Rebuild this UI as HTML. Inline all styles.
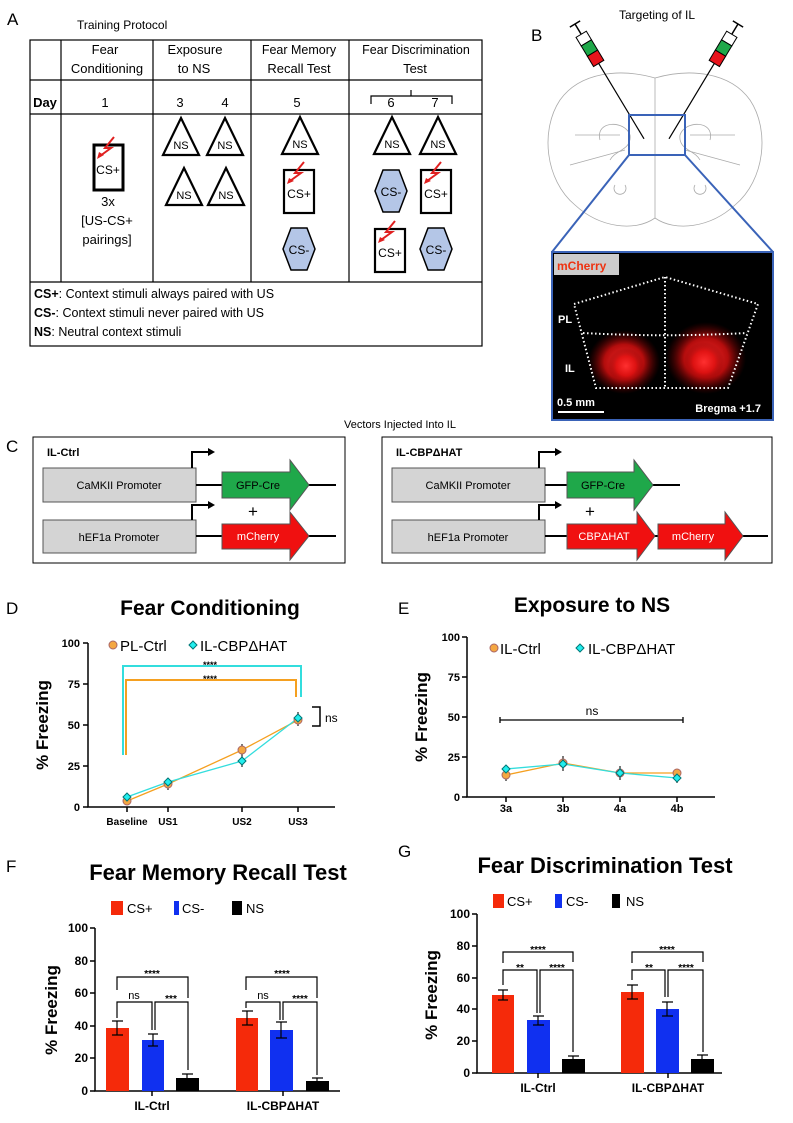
<!DOCTYPE html>
<html><head><meta charset="utf-8"><style>body{margin:0;background:#fff}svg{display:block}</style></head><body>
<svg width="793" height="1123" viewBox="0 0 793 1123" xmlns="http://www.w3.org/2000/svg" font-family="Liberation Sans, sans-serif">
<defs>
<radialGradient id="glow"><stop offset="0" stop-color="#ff3030" stop-opacity="1"/><stop offset="0.55" stop-color="#e01010" stop-opacity="0.8"/><stop offset="1" stop-color="#700" stop-opacity="0"/></radialGradient>
<g id="tri"><polygon points="18,0 36,37 0,37" fill="#fff" stroke="#000" stroke-width="2.2"/><text x="18" y="31" font-size="11" text-anchor="middle">NS</text></g>
<g id="hex"><polygon points="8,0 24,0 32,21 24,42 8,42 0,21" fill="#b4c6e7" stroke="#000" stroke-width="1.5"/><text x="16" y="26" font-size="12" text-anchor="middle">CS-</text></g>
<g id="csp"><rect x="0" y="0" width="30" height="43" fill="#fff" stroke="#000" stroke-width="2.2"/><polyline points="20,-8 11,3 17,3 6,11" fill="none" stroke="#e02020" stroke-width="2"/><polygon points="3,14 5,8 10,11" fill="#e02020"/><text x="15" y="28" font-size="12" text-anchor="middle">CS+</text></g>
</defs>

<!-- Panel A -->
<text x="7" y="25" font-size="17">A</text>
<text x="77" y="29" font-size="12">Training Protocol</text>
<g stroke="#000" stroke-width="1.2" fill="none">
<rect x="30" y="40" width="452" height="306"/>
<line x1="30" y1="80" x2="482" y2="80"/><line x1="30" y1="114" x2="482" y2="114"/><line x1="30" y1="282" x2="482" y2="282"/>
<line x1="61" y1="40" x2="61" y2="282"/><line x1="153" y1="40" x2="153" y2="282"/><line x1="251" y1="40" x2="251" y2="282"/><line x1="349" y1="40" x2="349" y2="282"/>
<path d="M371,104 V96 H411 V90 M411,96 H452 V104"/>
</g>
<g font-size="13" text-anchor="middle">
<text x="105" y="54">Fear</text><text x="107" y="73">Conditioning</text>
<text x="195" y="54">Exposure</text><text x="194" y="73">to NS</text>
<text x="299" y="54" font-size="12.5">Fear Memory</text><text x="299" y="73">Recall Test</text>
<text x="416" y="54" font-size="12.5">Fear Discrimination</text><text x="415" y="73">Test</text>
<text x="45" y="107" font-weight="bold">Day</text>
<text x="105" y="107">1</text><text x="180" y="107">3</text><text x="225" y="107">4</text><text x="297" y="107">5</text><text x="391" y="107">6</text><text x="435" y="107">7</text>
<text x="108" y="206">3x</text><text x="107" y="225">[US-CS+</text><text x="107" y="244">pairings]</text>
</g>
<rect x="94" y="145" width="29" height="45" fill="#fff" stroke="#000" stroke-width="3"/>
<polyline points="114,137 105,148 111,148 100,156" fill="none" stroke="#e02020" stroke-width="2"/><polygon points="97,159 99,152 104,155" fill="#e02020"/>
<text x="108" y="174" font-size="12" text-anchor="middle">CS+</text>
<use href="#tri" x="163" y="118"/><use href="#tri" x="207" y="118"/><use href="#tri" x="166" y="168"/><use href="#tri" x="208" y="168"/>
<use href="#tri" x="282" y="117"/><use href="#csp" x="284" y="170"/><use href="#hex" x="283" y="228"/>
<use href="#tri" x="374" y="117"/><use href="#hex" x="375" y="170"/><use href="#csp" x="375" y="229"/>
<use href="#tri" x="420" y="117"/><use href="#csp" x="421" y="170"/><use href="#hex" x="420" y="228"/>
<g font-size="12.5"><text x="34" y="298"><tspan font-weight="bold">CS+</tspan>: Context stimuli always paired with US</text>
<text x="34" y="317"><tspan font-weight="bold">CS-</tspan>: Context stimuli never paired with US</text>
<text x="34" y="336"><tspan font-weight="bold">NS</tspan>: Neutral context stimuli</text></g>

<!-- Panel B -->
<text x="657" y="19" font-size="12" text-anchor="middle">Targeting of IL</text>
<text x="531" y="41" font-size="17">B</text>
<g fill="none" stroke="#aaa" stroke-width="0.8">
<path d="M655,78 C620,68 580,72 560,100 C540,130 545,180 575,205 C600,228 635,232 655,218 C675,232 710,228 735,205 C765,180 770,130 750,100 C730,72 690,68 655,78 Z"/>
<line x1="655" y1="78" x2="655" y2="218"/>
<path d="M600,140 C595,120 625,120 630,135 C632,150 615,150 610,160 M710,140 C715,120 685,120 680,135 C678,150 695,150 700,160"/>
<path d="M575,135 H620 M690,135 H735 M570,165 L625,150 M740,165 L685,150 M615,185 a6,6 0 1,0 10,0 M695,185 a6,6 0 1,0 10,0"/>
</g>
<g transform="translate(575,24) rotate(-31)"><line x1="-6" y1="0" x2="6" y2="0" stroke="#000" stroke-width="1.5"/><line x1="0" y1="0" x2="0" y2="12" stroke="#000" stroke-width="1.5"/>
<rect x="-6" y="12" width="12" height="10" fill="#fff" stroke="#000"/><rect x="-6" y="22" width="12" height="12" fill="#1fa84a" stroke="#000"/><rect x="-6" y="34" width="12" height="12" fill="#e8141c" stroke="#000"/><line x1="0" y1="46" x2="0" y2="134" stroke="#000" stroke-width="1.2"/></g>
<g transform="translate(738,24) rotate(31)"><line x1="-6" y1="0" x2="6" y2="0" stroke="#000" stroke-width="1.5"/><line x1="0" y1="0" x2="0" y2="12" stroke="#000" stroke-width="1.5"/>
<rect x="-6" y="12" width="12" height="10" fill="#fff" stroke="#000"/><rect x="-6" y="22" width="12" height="12" fill="#1fa84a" stroke="#000"/><rect x="-6" y="34" width="12" height="12" fill="#e8141c" stroke="#000"/><line x1="0" y1="46" x2="0" y2="134" stroke="#000" stroke-width="1.2"/></g>
<rect x="629" y="115" width="56" height="40" fill="none" stroke="#3a63b8" stroke-width="2"/>
<line x1="629" y1="155" x2="552" y2="252" stroke="#3a63b8" stroke-width="2"/><line x1="685" y1="155" x2="773" y2="252" stroke="#3a63b8" stroke-width="2"/>
<rect x="552" y="252" width="221" height="168" fill="#000" stroke="#3a63b8" stroke-width="2"/>
<ellipse cx="624" cy="362" rx="36" ry="32" fill="url(#glow)"/><ellipse cx="706" cy="358" rx="40" ry="36" fill="url(#glow)"/>
<ellipse cx="626" cy="366" rx="18" ry="18" fill="url(#glow)"/><ellipse cx="704" cy="362" rx="20" ry="20" fill="url(#glow)"/>
<g fill="none" stroke="#fff" stroke-width="2" stroke-dasharray="1.5,2.5">
<polygon points="574,304 665,277 758,304 728,388 596,388"/><path d="M583,333 C640,336 690,336 747,333"/><line x1="665" y1="277" x2="665" y2="388"/></g>
<rect x="554" y="254" width="65" height="21" fill="#ccc"/><text x="557" y="270" font-size="12" fill="#e31" font-weight="bold">mCherry</text>
<g fill="#fff" font-size="11" font-weight="bold"><text x="558" y="323">PL</text><text x="565" y="372">IL</text><text x="557" y="406">0.5 mm</text><text x="761" y="412" text-anchor="end">Bregma +1.7</text></g>
<line x1="558" y1="412" x2="604" y2="412" stroke="#fff" stroke-width="2"/>

<!-- Panel C -->
<text x="400" y="428" font-size="11" text-anchor="middle">Vectors Injected Into IL</text>
<text x="6" y="452" font-size="17">C</text>
<g font-size="11">
<rect x="33" y="437" width="312" height="126" fill="none" stroke="#000"/>
<text x="47" y="456" font-weight="bold">IL-Ctrl</text>
<rect x="43" y="468" width="153" height="34" fill="#d4d4d4" stroke="#555"/><text x="119" y="489" text-anchor="middle">CaMKII Promoter</text>
<rect x="43" y="520" width="153" height="33" fill="#d4d4d4" stroke="#555"/><text x="119" y="541" text-anchor="middle">hEF1a Promoter</text>
<path d="M192,468 V452 H208" fill="none" stroke="#000" stroke-width="2"/><polygon points="208,448 215,452 208,456"/>
<path d="M192,520 V505 H208" fill="none" stroke="#000" stroke-width="2"/><polygon points="208,501 215,505 208,509"/>
<line x1="196" y1="485" x2="336" y2="485" stroke="#000" stroke-width="2"/><line x1="196" y1="536" x2="336" y2="536" stroke="#000" stroke-width="2"/>
<polygon points="222,472 290,472 290,460 309,485 290,510 290,498 222,498" fill="#1fa84a" stroke="#555"/><text x="258" y="489" text-anchor="middle">GFP-Cre</text>
<polygon points="222,524 290,524 290,512 309,536 290,560 290,549 222,549" fill="#f01010" stroke="#555"/><text x="258" y="540" text-anchor="middle" fill="#fff">mCherry</text>
<text x="253" y="517" font-size="17" text-anchor="middle">+</text>

<rect x="382" y="437" width="390" height="126" fill="none" stroke="#000"/>
<text x="396" y="456" font-weight="bold">IL-CBPΔHAT</text>
<rect x="392" y="468" width="153" height="34" fill="#d4d4d4" stroke="#555"/><text x="468" y="489" text-anchor="middle">CaMKII Promoter</text>
<rect x="392" y="520" width="153" height="33" fill="#d4d4d4" stroke="#555"/><text x="468" y="541" text-anchor="middle">hEF1a Promoter</text>
<path d="M539,468 V452 H555" fill="none" stroke="#000" stroke-width="2"/><polygon points="555,448 562,452 555,456"/>
<path d="M539,520 V505 H555" fill="none" stroke="#000" stroke-width="2"/><polygon points="555,501 562,505 555,509"/>
<line x1="545" y1="485" x2="680" y2="485" stroke="#000" stroke-width="2"/><line x1="545" y1="536" x2="768" y2="536" stroke="#000" stroke-width="2"/>
<polygon points="567,472 634,472 634,460 653,485 634,510 634,498 567,498" fill="#1fa84a" stroke="#555"/><text x="603" y="489" text-anchor="middle">GFP-Cre</text>
<polygon points="567,524 637,524 637,512 655,536 637,560 637,549 567,549" fill="#f01010" stroke="#555"/><text x="604" y="540" text-anchor="middle" fill="#fff">CBPΔHAT</text>
<polygon points="658,524 725,524 725,512 743,536 725,560 725,549 658,549" fill="#f01010" stroke="#555"/><text x="693" y="540" text-anchor="middle" fill="#fff">mCherry</text>
<text x="590" y="517" font-size="17" text-anchor="middle">+</text>
</g>

<!-- Panel D -->
<text x="6" y="614" font-size="17">D</text>
<text x="210" y="615" font-size="21" font-weight="bold" text-anchor="middle">Fear Conditioning</text>
<g stroke="#000" stroke-width="1.5" fill="none">
<path d="M88,643 V807 H335"/>
<path d="M83,643 H88 M83,684 H88 M83,725 H88 M83,766 H88 M83,807 H88 M127,807 V812 M168,807 V812 M242,807 V812 M298,807 V812"/>
</g>
<g font-size="11" font-weight="bold" text-anchor="end"><text x="80" y="647">100</text><text x="80" y="688">75</text><text x="80" y="729">50</text><text x="80" y="770">25</text><text x="80" y="811">0</text></g>
<g font-size="10" font-weight="bold" text-anchor="middle"><text x="127" y="825">Baseline</text><text x="168" y="825">US1</text><text x="242" y="825">US2</text><text x="298" y="825">US3</text></g>
<text x="48" y="725" font-size="17" font-weight="bold" text-anchor="middle" transform="rotate(-90 48 725)">% Freezing</text>
<circle cx="113" cy="645" r="4" fill="#f4a742" stroke="#a66"/><text x="120" y="651" font-size="15">PL-Ctrl</text>
<polygon points="193,641 197,645 193,649 189,645" fill="#2ee" stroke="#077"/><text x="200" y="651" font-size="15">IL-CBPΔHAT</text>
<path d="M123,755 V666 H301 V697" fill="none" stroke="#3dd" stroke-width="2"/>
<path d="M126,755 V680 H296 V697" fill="none" stroke="#f5a020" stroke-width="2"/>
<text x="210" y="668" font-size="9" font-weight="bold" text-anchor="middle">****</text><text x="210" y="682" font-size="9" font-weight="bold" text-anchor="middle">****</text>
<path d="M312,707 H320 V726 H312" fill="none" stroke="#000" stroke-width="1.5"/><text x="325" y="722" font-size="12">ns</text>
<g stroke="#333" stroke-width="1.3"><path d="M127,795 V803 M168,778 V790 M242,744 V756 M298,712 V726 M242,755 V767"/></g>
<polyline points="127,801 168,784 242,750 298,720" fill="none" stroke="#f5a020" stroke-width="1.3"/>
<polyline points="127,797 168,782 242,761 298,718" fill="none" stroke="#3dd" stroke-width="1.3"/>
<g fill="#f4a742" stroke="#a66"><circle cx="127" cy="801" r="4"/><circle cx="168" cy="784" r="4"/><circle cx="242" cy="750" r="4"/><circle cx="298" cy="720" r="4"/></g>
<g fill="#2ee" stroke="#077"><polygon points="127,793 131,797 127,801 123,797"/><polygon points="168,778 172,782 168,786 164,782"/><polygon points="242,757 246,761 242,765 238,761"/><polygon points="298,714 302,718 298,722 294,718"/></g>

<!-- Panel E -->
<text x="398" y="614" font-size="17">E</text>
<text x="592" y="612" font-size="21" font-weight="bold" text-anchor="middle">Exposure to NS</text>
<g stroke="#000" stroke-width="1.5" fill="none">
<path d="M467,637 V797 H715"/>
<path d="M462,637 H467 M462,677 H467 M462,717 H467 M462,757 H467 M462,797 H467 M506,797 V802 M563,797 V802 M620,797 V802 M677,797 V802"/>
</g>
<g font-size="11" font-weight="bold" text-anchor="end"><text x="460" y="641">100</text><text x="460" y="681">75</text><text x="460" y="721">50</text><text x="460" y="761">25</text><text x="460" y="801">0</text></g>
<g font-size="11" font-weight="bold" text-anchor="middle"><text x="506" y="812">3a</text><text x="563" y="812">3b</text><text x="620" y="812">4a</text><text x="677" y="812">4b</text></g>
<text x="427" y="717" font-size="17" font-weight="bold" text-anchor="middle" transform="rotate(-90 427 717)">% Freezing</text>
<circle cx="494" cy="648" r="4" fill="#f4a742" stroke="#a66"/><text x="500" y="654" font-size="15">IL-Ctrl</text>
<polygon points="580,644 584,648 580,652 576,648" fill="#2ee" stroke="#077"/><text x="588" y="654" font-size="15">IL-CBPΔHAT</text>
<path d="M500,720 H683 M500,717 V723 M683,717 V723" stroke="#000" stroke-width="1.3"/><text x="592" y="715" font-size="12" text-anchor="middle">ns</text>
<g stroke="#333" stroke-width="1.3"><path d="M506,768 V781 M563,756 V771 M620,766 V780 M677,771 V783"/></g>
<polyline points="506,775 563,763 620,773 677,773" fill="none" stroke="#f5a020" stroke-width="1.3"/>
<polyline points="506,769 563,764 620,773 677,778" fill="none" stroke="#3dd" stroke-width="1.3"/>
<g fill="#f4a742" stroke="#a66"><circle cx="506" cy="775" r="4"/><circle cx="563" cy="763" r="4"/><circle cx="620" cy="773" r="4"/><circle cx="677" cy="773" r="4"/></g>
<g fill="#2ee" stroke="#077"><polygon points="506,765 510,769 506,773 502,769"/><polygon points="563,760 567,764 563,768 559,764"/><polygon points="620,769 624,773 620,777 616,773"/><polygon points="677,774 681,778 677,782 673,778"/></g>

<!-- Panel F -->
<text x="6" y="872" font-size="17">F</text>
<text x="218" y="880" font-size="22" font-weight="bold" text-anchor="middle">Fear Memory Recall Test</text>
<rect x="111" y="901" width="12" height="14" fill="#f52a0a"/><text x="127" y="913" font-size="13">CS+</text>
<rect x="174" y="901" width="5" height="14" fill="#1030f0"/><text x="182" y="913" font-size="13">CS-</text>
<rect x="232" y="901" width="10" height="14" fill="#000"/><text x="246" y="913" font-size="13">NS</text>
<g stroke="#000" stroke-width="1.5" fill="none">
<path d="M95,928 V1091 H340"/>
<path d="M90,928 H95 M90,961 H95 M90,993 H95 M90,1026 H95 M90,1058 H95 M90,1091 H95 M152,1091 V1096 M283,1091 V1096"/>
</g>
<g font-size="12" font-weight="bold" text-anchor="end"><text x="88" y="932">100</text><text x="88" y="965">80</text><text x="88" y="997">60</text><text x="88" y="1030">40</text><text x="88" y="1062">20</text><text x="88" y="1095">0</text></g>
<text x="57" y="1010" font-size="17" font-weight="bold" text-anchor="middle" transform="rotate(-90 57 1010)">% Freezing</text>
<g font-size="12" font-weight="bold" text-anchor="middle"><text x="152" y="1110">IL-Ctrl</text><text x="283" y="1110">IL-CBPΔHAT</text></g>
<rect x="106" y="1028" width="23" height="63" fill="#f52a0a"/><rect x="142" y="1040" width="22" height="51" fill="#1030f0"/><rect x="176" y="1078" width="23" height="13" fill="#000"/>
<rect x="236" y="1018" width="22" height="73" fill="#f52a0a"/><rect x="270" y="1030" width="23" height="61" fill="#1030f0"/><rect x="306" y="1081" width="23" height="10" fill="#000"/>
<g stroke="#000" stroke-width="1.2" fill="none">
<path d="M112,1021 H123 M117,1021 V1035 M112,1035 H123 M148,1034 H158 M153,1034 V1046 M148,1046 H158 M182,1074 H193 M187,1074 V1082"/>
<path d="M242,1011 H253 M247,1011 V1025 M242,1025 H253 M276,1022 H287 M281,1022 V1038 M276,1038 H287 M312,1078 H323 M317,1078 V1083"/>
<path d="M117,990 V977 H188 V998 M117,1018 V1002 H152 V1030 M155,1030 V1002 H188 V1070"/>
<path d="M246,990 V977 H317 V998 M246,1008 V1002 H280 V1020 M283,1020 V1002 H317 V1075"/>
</g>
<g font-size="10" font-weight="bold" text-anchor="middle"><text x="152" y="977">****</text><text x="134" y="999" font-weight="normal" font-size="11">ns</text><text x="171" y="1002">***</text>
<text x="282" y="977">****</text><text x="263" y="999" font-weight="normal" font-size="11">ns</text><text x="300" y="1002">****</text></g>

<!-- Panel G -->
<text x="398" y="857" font-size="17">G</text>
<text x="605" y="873" font-size="22" font-weight="bold" text-anchor="middle">Fear Discrimination Test</text>
<rect x="493" y="894" width="11" height="14" fill="#f52a0a"/><text x="507" y="906" font-size="13">CS+</text>
<rect x="555" y="894" width="7" height="14" fill="#1030f0"/><text x="566" y="906" font-size="13">CS-</text>
<rect x="612" y="894" width="8" height="14" fill="#000"/><text x="626" y="906" font-size="13">NS</text>
<g stroke="#000" stroke-width="1.5" fill="none">
<path d="M477,914 V1073 H722"/>
<path d="M472,914 H477 M472,946 H477 M472,978 H477 M472,1009 H477 M472,1041 H477 M472,1073 H477 M538,1073 V1078 M668,1073 V1078"/>
</g>
<g font-size="12" font-weight="bold" text-anchor="end"><text x="470" y="918">100</text><text x="470" y="950">80</text><text x="470" y="982">60</text><text x="470" y="1013">40</text><text x="470" y="1045">20</text><text x="470" y="1077">0</text></g>
<text x="437" y="995" font-size="17" font-weight="bold" text-anchor="middle" transform="rotate(-90 437 995)">% Freezing</text>
<g font-size="12" font-weight="bold" text-anchor="middle"><text x="538" y="1092">IL-Ctrl</text><text x="668" y="1092">IL-CBPΔHAT</text></g>
<rect x="492" y="995" width="22" height="78" fill="#f52a0a"/><rect x="527" y="1020" width="23" height="53" fill="#1030f0"/><rect x="562" y="1059" width="23" height="14" fill="#000"/>
<rect x="621" y="992" width="23" height="81" fill="#f52a0a"/><rect x="656" y="1009" width="23" height="64" fill="#1030f0"/><rect x="691" y="1059" width="23" height="14" fill="#000"/>
<g stroke="#000" stroke-width="1.2" fill="none">
<path d="M498,990 H508 M503,990 V1000 M498,1000 H508 M533,1016 H544 M538,1016 V1025 M533,1025 H544 M568,1056 H579 M573,1056 V1062"/>
<path d="M627,985 H638 M632,985 V999 M627,999 H638 M662,1002 H673 M667,1002 V1016 M662,1016 H673 M697,1055 H708 M702,1055 V1063"/>
<path d="M503,963 V952 H573 V962 M503,985 V970 H537 V1013 M540,1013 V970 H573 V1052"/>
<path d="M632,963 V952 H703 V962 M632,980 V970 H665 V997 M668,997 V970 H703 V1052"/>
</g>
<g font-size="10" font-weight="bold" text-anchor="middle"><text x="538" y="953">****</text><text x="520" y="971">**</text><text x="557" y="971">****</text>
<text x="667" y="953">****</text><text x="649" y="971">**</text><text x="686" y="971">****</text></g>
</svg>
</body></html>
